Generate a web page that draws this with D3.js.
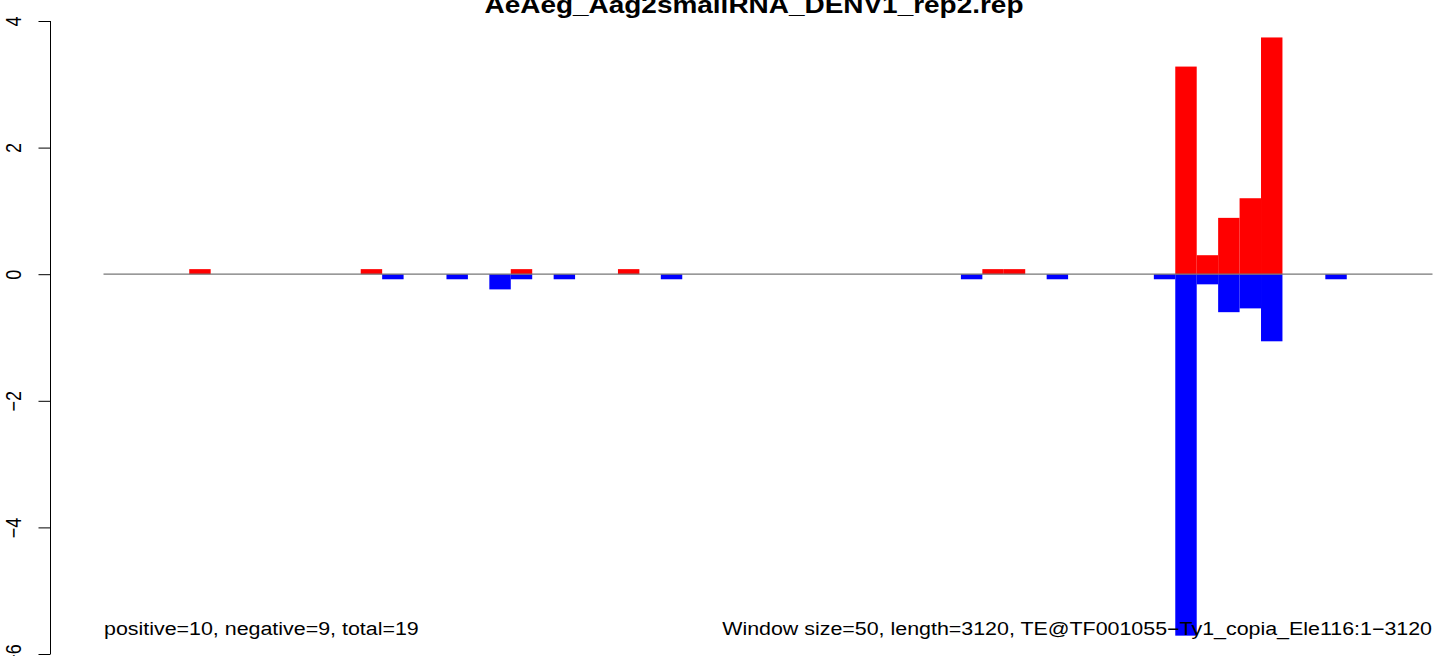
<!DOCTYPE html>
<html><head><meta charset="utf-8">
<script src="https://cdn.jsdelivr.net/npm/d3@7"></script>
<style>body{margin:0;background:#fff}svg{display:block}text{font-family:"Liberation Sans",Arial,Helvetica,sans-serif}</style>
</head><body>
<script>
const title = "AeAeg_Aag2smallRNA_DENV1_rep2.rep";
const leftNote = "positive=10, negative=9, total=19";
const rightNote = "Window size=50, length=3120, TE@TF001055\u2212Ty1_copia_Ele116:1\u22123120";
const nBins = 62;
const posBins = [4, 12, 19, 24, 41, 42, 50, 51, 52, 53, 54];
const posVals = [0.08, 0.08, 0.08, 0.08, 0.08, 0.08, 3.28, 0.3, 0.89, 1.2, 3.74];
const negBins = [13, 16, 18, 19, 21, 26, 40, 44, 49, 50, 51, 52, 53, 54, 57];
const negVals = [-0.08, -0.08, -0.24, -0.08, -0.08, -0.08, -0.08, -0.08, -0.08, -5.71, -0.16, -0.6, -0.54, -1.06, -0.08];
const yTicks = [-6, -4, -2, 0, 2, 4];

const W = 1444, H = 656;
const SX = 1.19; // horizontal text stretch seen in the reference
const svg = d3.select("body").append("svg").attr("width", W).attr("height", H);
const x = d3.scaleLinear().domain([0, nBins]).range([103.5, 1432.5]);
const y = d3.scaleLinear().domain([-6, 4]).range([654, 21]);

// bars
svg.append("g").selectAll("rect").data(posBins.map((b, i) => [b, posVals[i]])).join("rect")
  .attr("x", d => x(d[0])).attr("width", d => x(d[0] + 1) - x(d[0]))
  .attr("y", d => y(d[1])).attr("height", d => y(0) - y(d[1]))
  .attr("fill", "#ff0000");
svg.append("g").selectAll("rect").data(negBins.map((b, i) => [b, negVals[i]])).join("rect")
  .attr("x", d => x(d[0])).attr("width", d => x(d[0] + 1) - x(d[0]))
  .attr("y", y(0)).attr("height", d => y(d[1]) - y(0))
  .attr("fill", "#0000ff");

// zero line
svg.append("line").attr("x1", x(0)).attr("x2", x(nBins)).attr("y1", y(0)).attr("y2", y(0))
  .attr("stroke", "#777").attr("stroke-width", 1.2);

// y axis
const ax = svg.append("g").attr("transform", "translate(50.5,0)")
  .call(d3.axisLeft(y).tickValues(yTicks).tickSize(12).tickPadding(0).tickFormat(d => d < 0 ? "\u2212" + Math.abs(d) : d));
ax.select(".domain").attr("stroke", "#000").attr("stroke-width", 1).attr("d", `M0,${y(-6)}V${y(4)}`);
ax.selectAll(".tick line").attr("stroke", "#000");
ax.selectAll(".tick text").attr("fill", "#000").attr("font-size", 18)
  .attr("text-anchor", "middle").attr("x", null).attr("y", null).attr("dy", 0)
  .attr("transform", `translate(-30,0) scale(${SX},1) rotate(-90)`);

// title
svg.append("text").attr("transform", `translate(754,13) scale(${SX},1)`).attr("text-anchor", "middle")
  .attr("font-size", 23.5).attr("font-weight", "bold").attr("fill", "#000").text(title);

// notes
svg.append("text").attr("transform", `translate(104,635) scale(${SX},1)`).attr("font-size", 18).attr("fill", "#000").text(leftNote);
svg.append("text").attr("transform", `translate(1432,635) scale(${SX},1)`).attr("text-anchor", "end").attr("font-size", 18).attr("fill", "#000").text(rightNote);
</script>
</body></html>
